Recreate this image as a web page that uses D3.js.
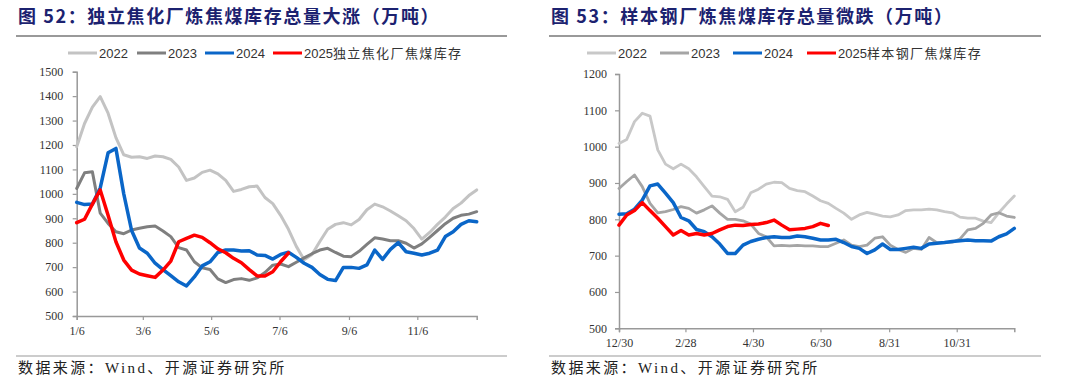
<!DOCTYPE html>
<html lang="zh">
<head>
<meta charset="utf-8">
<title>炼焦煤库存</title>
<script src="https://cdn.jsdelivr.net/npm/d3@7"></script>
<style>
  body { margin: 0; background: #fff; }
  svg { display: block; }
</style>
</head>
<body>
<script>
// weekly inventory, 万吨
var years = ["2022", "2023", "2024", "2025"];

// 图52 独立焦化厂 (weeks starting 1/6)
var coke2022 = [1193,1288,1355,1398,1330,1230,1160,1150,1152,1145,1155,1152,1141,1110,1055,1065,1088,1097,1082,1055,1010,1018,1029,1032,985,960,912,855,785,730,752,805,855,875,882,873,895,935,958,947,930,910,890,858,815,842,875,905,940,962,993,1016];
var coke2023 = [1022,1086,1090,921,879,845,837,852,859,865,868,848,825,780,770,722,697,690,652,637,649,653,646,656,678,708,713,702,720,738,755,770,777,760,745,743,765,793,820,815,808,808,798,778,795,822,850,878,900,912,917,927];
var coke2024 = [965,956,958,1024,1168,1186,1000,850,778,757,716,690,665,640,623,660,705,722,760,770,770,766,767,750,748,733,752,761,740,716,699,670,650,645,699,699,695,709,770,732,773,800,763,757,750,757,770,825,845,875,890,886];
var coke2025 = [882,896,958,1016,912,804,729,688,672,665,658,688,725,804,818,831,822,800,775,759,736,718,690,664,664,681,722,758];
var cokeTicks = ["1/6", "3/6", "5/6", "7/6", "9/6", "11/6"];

// 图53 样本钢厂 (weeks starting 12/30)
var steel2022 = [1009,1020,1069,1092,1084,991,952,939,952,939,917,890,864,862,855,821,833,873,883,897,902,901,885,879,876,864,851,844,830,817,800,812,819,814,809,807,812,824,826,826,828,826,821,818,806,803,803,795,791,818,842,864];
var steel2023 = [885,904,922,890,844,818,821,827,835,830,817,826,837,817,800,800,796,787,761,752,727,728,727,728,727,727,725,725,734,743,729,725,729,748,752,729,717,709,720,717,750,736,736,737,746,771,775,789,812,818,809,805];
var steel2024 = [814,815,828,853,892,897,872,846,805,796,772,766,752,732,706,706,729,739,745,750,752,750,750,754,752,748,743,743,745,736,725,720,706,716,732,717,717,720,723,720,732,734,736,739,741,743,741,741,740,752,760,775];
var steel2025 = [784,812,824,846,824,803,780,757,769,757,761,757,761,771,780,784,783,786,787,791,798,784,771,773,775,780,789,783];
var steelTicks = ["12/30", "2/28", "4/30", "6/30", "8/31", "10/31"];

var W = 1080, H = 388;
var svg = d3.select("body").append("svg").attr("width", W).attr("height", H);
svg.append("rect").attr("width", W).attr("height", H).attr("fill", "#fff");

var serif = "'Liberation Serif', 'Noto Sans CJK SC', serif";
var cjk = "'Noto Sans CJK SC', sans-serif";
var sans = "'Liberation Sans', Arial, sans-serif";

function parseTick(s, start) {
    var p = s.split("/");
    var m = +p[0] - 1, d = +p[1];
    var y = start.getFullYear();
    if (m < start.getMonth()) y += 1;
    return new Date(y, m, d);
}

function drawPanel(o) {
    var g = svg.append("g");

    // title + rule
    g.append("text")
        .attr("x", o.left + 2).attr("y", 23)
        .attr("fill", "#1c2270")
        .style("font-family", cjk).style("font-weight", "bold")
        .style("font-size", "18px").style("letter-spacing", "1.6px")
        .text(o.title);
    g.append("line")
        .attr("x1", o.left).attr("x2", o.right).attr("y1", 36).attr("y2", 36)
        .attr("stroke", "#777").attr("stroke-width", 1.5);

    // footer
    g.append("line")
        .attr("x1", o.left).attr("x2", o.right).attr("y1", 356).attr("y2", 356)
        .attr("stroke", "#999").attr("stroke-width", 1.2);
    g.append("text")
        .attr("x", o.left + 2).attr("y", 373)
        .attr("fill", "#222")
        .style("font-family", serif).style("font-size", "15px")
        .style("letter-spacing", "2.4px")
        .text("数据来源：Wind、开源证券研究所");

    var dates = o.series[0].map(function(v, i) { return d3.timeDay.offset(o.start, i * 7); });
    var x = d3.scaleTime().domain([o.start, d3.timeDay.offset(o.start, 357)]).range([o.x0, o.x1]);
    var y = d3.scaleLinear().domain(o.yDomain).range([o.y0, o.y1]);

    var yAxis = d3.axisLeft(y).tickValues(d3.range(o.yDomain[0], o.yDomain[1] + 1, 100))
        .tickFormat(d3.format("d"))
        .tickSize(4).tickPadding(o.yPad);
    var gy = g.append("g").attr("transform", "translate(" + o.x0 + ",0)").call(yAxis);

    var tickDates = o.ticks.map(function(t) { return parseTick(t, o.start); });
    var xAxis = d3.axisBottom(x).tickValues(tickDates)
        .tickFormat(function(d, i) { return o.ticks[i]; })
        .tickSize(4).tickPadding(6);
    var gx = g.append("g").attr("transform", "translate(0," + o.y0 + ")").call(xAxis);

    [gx, gy].forEach(function(a) {
        a.select(".domain").attr("stroke", "#999").attr("stroke-width", 1.5);
        a.selectAll(".tick line").attr("stroke", "#999").attr("stroke-width", 1.2);
        a.selectAll(".tick text").attr("fill", "#333")
            .style("font-family", serif).style("font-size", "12px");
    });

    var line = d3.line()
        .x(function(d, i) { return x(dates[i]); })
        .y(function(d) { return y(d); });

    o.series.forEach(function(s, k) {
        g.append("path")
            .datum(s)
            .attr("d", line)
            .attr("fill", "none")
            .attr("stroke", o.colors[k])
            .attr("stroke-width", o.widths[k])
            .attr("stroke-linejoin", "round")
            .attr("stroke-linecap", "round");
    });

    // legend
    o.legendX.forEach(function(lx, k) {
        g.append("line")
            .attr("x1", lx).attr("x2", lx + 29).attr("y1", 53).attr("y2", 53)
            .attr("stroke", o.colors[k]).attr("stroke-width", 3);
        var t = g.append("text").attr("x", lx + 31).attr("y", 58)
            .attr("fill", "#333")
            .style("font-family", sans).style("font-size", "13px");
        t.append("tspan").text(years[k]);
        if (k === 3) {
            t.append("tspan").style("font-family", cjk).style("font-size", "13px")
                .style("letter-spacing", "1.4px").text(o.legendName);
        }
    });
}

drawPanel({
    left: 16, right: 507,
    title: "图 52：独立焦化厂炼焦煤库存总量大涨（万吨）",
    start: new Date(2025, 0, 6),
    x0: 76.7, x1: 476.7, y0: 316, y1: 71.7,
    yDomain: [500, 1500], yPad: 9.5,
    ticks: cokeTicks,
    series: [coke2022, coke2023, coke2024, coke2025],
    colors: ["#c3c3c3", "#7f7f7f", "#0a66c8", "#ff0000"],
    widths: [3, 3, 3.5, 3.5],
    legendX: [68, 137, 205, 273],
    legendName: "独立焦化厂焦煤库存"
});

drawPanel({
    left: 549, right: 1041,
    title: "图 53：样本钢厂炼焦煤库存总量微跌（万吨）",
    start: new Date(2024, 11, 30),
    x0: 619, x1: 1014.3, y0: 328.3, y1: 74,
    yDomain: [500, 1200], yPad: 8,
    ticks: steelTicks,
    series: [steel2022, steel2023, steel2024, steel2025],
    colors: ["#c8c8c8", "#a5a5a5", "#0a66c8", "#ff0000"],
    widths: [2.8, 2.8, 3.5, 3.5],
    legendX: [587, 660, 733, 807],
    legendName: "样本钢厂焦煤库存"
});
</script>
</body>
</html>
